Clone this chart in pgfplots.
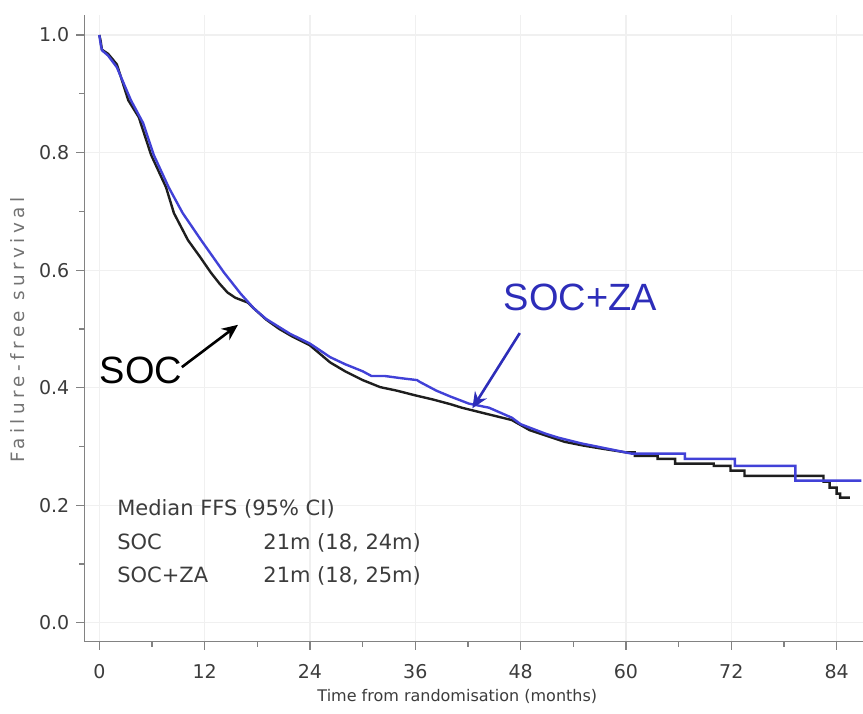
\documentclass[border=0pt]{standalone}
\usepackage{pgfplots}
\pgfplotsset{compat=1.18}
\usepackage{fontspec}
\setmainfont{DejaVu Sans}
\newfontfamily\bigfont{Liberation Sans}
\newfontfamily\ylfont[LetterSpace=24]{DejaVu Sans}
\usetikzlibrary{arrows.meta}
\definecolor{zablue}{RGB}{65,65,215}
\definecolor{zatext}{RGB}{45,45,185}
\definecolor{socblack}{RGB}{30,30,30}
\definecolor{txtgray}{RGB}{60,60,60}
\definecolor{axgray}{RGB}{130,130,130}

\pgfplotstableread{
t S
0 1.0
0.15 0.99
0.3 0.975
1 0.968
2 0.95
3.3 0.889
4.5 0.86
5.9 0.796
7.6 0.741
8.5 0.697
10.1 0.651
11.5 0.622
12.7 0.596
13.7 0.577
14.6 0.562
15.5 0.553
16.9 0.545
17.6 0.535
19 0.516
20.5 0.50
22 0.487
24 0.472
26.3 0.443
28 0.428
30 0.413
32 0.401
33.9 0.395
36 0.387
38 0.380
40 0.372
41.3 0.366
44 0.356
47 0.345
49 0.328
50.8 0.319
53 0.308
55 0.302
57 0.297
60 0.290
61 0.290
61 0.284
63.6 0.284
63.6 0.279
65.6 0.279
65.6 0.271
70 0.271
70 0.267
71.9 0.267
71.9 0.259
73.5 0.259
73.5 0.250
82.5 0.250
82.5 0.240
83.2 0.240
83.2 0.230
84 0.230
84 0.220
84.4 0.220
84.4 0.213
85.5 0.213
}\socdata

\pgfplotstableread{
t S
0 1.0
0.15 0.985
0.3 0.974
1 0.965
2 0.945
3.6 0.889
5 0.85
6.2 0.796
7.9 0.741
9.5 0.697
11.6 0.651
14.2 0.596
16.1 0.560
17.6 0.535
19 0.517
21.7 0.492
24 0.475
26.3 0.452
28 0.440
30 0.428
31 0.420
32.5 0.420
34.5 0.416
36.2 0.413
36.5 0.410
38.4 0.395
40 0.385
42.1 0.373
44.4 0.366
47 0.349
48 0.338
50.8 0.322
52.3 0.315
55 0.305
58 0.296
60.6 0.288
66.7 0.288
66.7 0.279
72.4 0.279
72.4 0.267
79.3 0.267
79.3 0.242
86.8 0.242
}\zadata

\begin{document}
\begin{tikzpicture}
\path[use as bounding box] (-42.15pt,-35.65pt) rectangle (389.35pt,320.85pt);
\begin{axis}[
  scale only axis, width=389.35pt, height=313.35pt,
  xmin=-1.71, xmax=87, ymin=-0.032, ymax=1.034,
  axis x line=bottom, axis y line=left,
  axis line style={axgray, -, line width=0.6pt},
  xtick={0,12,24,36,48,60,72,84}, minor x tick num=1,
  ytick={0,0.2,0.4,0.6,0.8,1.0}, minor y tick num=1,
  tick align=outside, major tick length=4pt, minor tick length=2.5pt,
  tick style={axgray, line width=0.6pt},
  grid=major, major grid style={black!6, line width=0.6pt},
  /pgf/number format/assume math mode=true,
  yticklabel style={/pgf/number format/.cd, fixed, fixed zerofill, precision=1},
  ticklabel style={font=\fontsize{9.5}{11}\selectfont, text=txtgray},
  xticklabel style={yshift=-4pt},
  xlabel={Time from randomisation (months)},
  x label style={at={(axis description cs:0.479,-0.0882)}, anchor=center,
     font=\fontsize{8}{10}\selectfont, text=txtgray},
  ylabel={\ylfont Failure-free survival},
  y label style={at={(axis description cs:-0.0851,0.497)}, anchor=center, rotate=0,
     font=\fontsize{9.2}{10}\selectfont, text=black!55},
  clip=false,
]
\addplot[socblack, line width=1.2pt] table[x=t,y=S] {\socdata};
\addplot[zablue, line width=1.2pt] table[x=t,y=S] {\zadata};

\node[font=\bigfont\fontsize{19}{22}\selectfont, text=black, inner sep=0pt] at (axis cs:4.75,0.430) {SOC};
\draw[-{Stealth[length=8pt,width=7pt]}, line width=1.3pt, black] (axis cs:9.4,0.435) -- (axis cs:15.8,0.507);
\node[font=\bigfont\fontsize{19}{22}\selectfont, text=zatext, inner sep=0pt] at (axis cs:54.8,0.554) {SOC+ZA};
\draw[-{Stealth[length=8pt,width=7pt]}, line width=1.3pt, zatext] (axis cs:47.9,0.493) -- (axis cs:42.5,0.365);

\begin{scope}[every node/.style={font=\fontsize{10.5}{12}\selectfont, text=txtgray, inner sep=0pt, anchor=base west}]
\node at (axis cs:2.0,0.182) {Median FFS (95\% CI)};
\node at (axis cs:2.0,0.1245) {SOC};
\node at (axis cs:18.65,0.1245) {21m (18, 24m)};
\node at (axis cs:2.0,0.068) {SOC+ZA};
\node at (axis cs:18.65,0.068) {21m (18, 25m)};
\end{scope}
\end{axis}
\end{tikzpicture}
\end{document}
